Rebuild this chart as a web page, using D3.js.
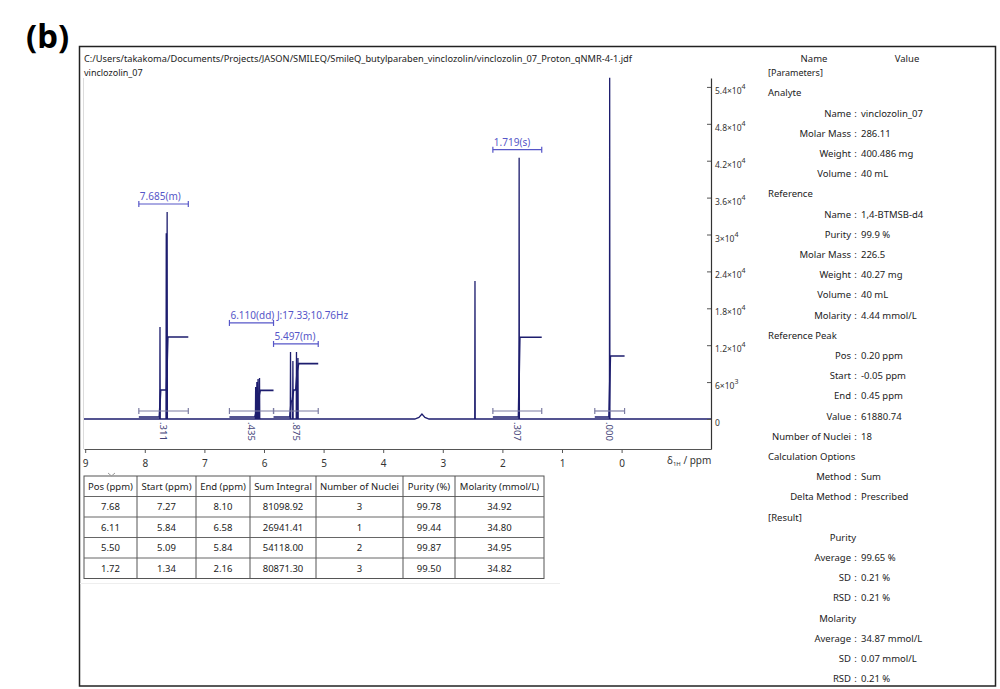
<!DOCTYPE html>
<html>
<head>
<meta charset="utf-8">
<script src="https://cdn.jsdelivr.net/npm/d3@7"></script>
<style>
body { margin: 0; background: #fff; }
svg { display: block; }
text { font-family: "Noto Sans", "Open Sans", sans-serif; }
</style>
</head>
<body>
<div id="chart"></div>
<script>
// ---- data ----
var filePath = 'C:/Users/takakoma/Documents/Projects/JASON/SMILEQ/SmileQ_butylparaben_vinclozolin/vinclozolin_07_Proton_qNMR-4-1.jdf'
var sampleName = 'vinclozolin_07'

// sharp lines of the 1H spectrum (ppm, intensity)
var peakPpm = [7.745, 7.64, 7.625, 6.14, 6.12, 6.10, 6.075, 5.555, 5.515, 5.455, 5.43, 2.46, 1.719, 0.20]
var peakHeight = [14960, 30200, 33660, 5200, 6000, 6500, 6670, 10900, 9430, 10900, 9900, 22440, 42490, 55500]
// broad water hump
var humpPpm = [3.47, 3.40, 3.35, 3.30, 3.23]
var humpHeight = [0, 250, 800, 250, 0]

// integration regions (Start = low ppm, End = high ppm)
var regionPos = ['7.68', '6.11', '5.50', '1.72', '0.20']
var regionStart = [7.27, 5.84, 5.09, 1.34, -0.05]
var regionEnd = [8.10, 6.58, 5.84, 2.16, 0.45]
var regionIntegral = [81098.92, 26941.41, 54118.00, 80871.30, 61880.74]
var regionLabel = ['7.685(m)', '6.110(dd) J:17.33;10.76Hz', '5.497(m)', '1.719(s)', '']
// where each integral curve rises and its running total after the rise
var stepPpm = [[7.745, 7.625], [6.14, 6.12, 6.10, 6.075], [5.555, 5.515, 5.455, 5.43], [1.719], [0.20]]
var stepValue = [[27400, 81098.92], [6000, 13000, 20000, 26941.41], [16200, 27400, 47000, 54118.00], [80871.30], [61880.74]]
var refRegion = 4

// result table
var tableHead = ['Pos (ppm)', 'Start (ppm)', 'End (ppm)', 'Sum Integral', 'Number of Nuclei', 'Purity (%)', 'Molarity (mmol/L)']
var nuclei = ['3', '1', '2', '3']
var purity = ['99.78', '99.44', '99.87', '99.50']
var molarity = ['34.92', '34.80', '34.95', '34.82']

// axes
var yTicks = d3.range(0, 54001, 6000)
var yMinor = d3.range(-4800, 55201, 1200)
var xTicks = d3.range(0, 10, 1)
var xMinor = d3.range(-1.4, 9.01, 0.2)

// parameter panel (null = section, '' = sub heading)
var panelLabel = ['Analyte', 'Name', 'Molar Mass', 'Weight', 'Volume', 'Reference', 'Name', 'Purity', 'Molar Mass', 'Weight', 'Volume', 'Molarity', 'Reference Peak', 'Pos', 'Start', 'End', 'Value', 'Number of Nuclei', 'Calculation Options', 'Method', 'Delta Method', '[Result]', 'Purity', 'Average', 'SD', 'RSD', 'Molarity', 'Average', 'SD', 'RSD']
var panelValue = [null, 'vinclozolin_07', '286.11', '400.486 mg', '40 mL', null, '1,4-BTMSB-d4', '99.9 %', '226.5', '40.27 mg', '40 mL', '4.44 mmol/L', null, '0.20 ppm', '-0.05 ppm', '0.45 ppm', '61880.74', '18', null, 'Sum', 'Prescribed', null, '', '99.65 %', '0.21 %', '0.21 %', '', '34.87 mmol/L', '0.07 mmol/L', '0.21 %']

// ---- layout ----
var width = 1000
var height = 689
var plotL = 84, plotR = 711, plotT = 78, plotB = 449
var navy = '#1d1d6e'
var labelBlue = '#5656c8'
var bracketGray = '#7c7ca2'

var svg = d3.select('#chart').append('svg')
    .attr('width', width)
    .attr('height', height)

svg.append('text')
    .attr('x', 26)
    .attr('y', 48)
    .attr('font-family', 'Liberation Sans, Arial, sans-serif')
    .attr('font-weight', 'bold')
    .attr('font-size', 33)
    .text('(b)')

svg.append('rect')
    .attr('x', 79.5).attr('y', 46.5)
    .attr('width', 916).attr('height', 639.5)
    .attr('fill', 'none')
    .attr('stroke', '#222')
    .attr('stroke-width', 1.5)

svg.append('text')
    .attr('x', 84).attr('y', 62)
    .attr('font-size', 9)
    .attr('fill', '#222')
    .attr('textLength', 548)
    .attr('lengthAdjust', 'spacingAndGlyphs')
    .text(filePath)
svg.append('text')
    .attr('x', 84).attr('y', 75.5)
    .attr('font-size', 9)
    .attr('fill', '#222')
    .text(sampleName)

// scales
var X = d3.scaleLinear().domain([9.02, -1.5]).range([plotL, plotR])
var Y = d3.scaleLinear().domain([-4880, 55450]).range([plotB, plotT])
var IY = d3.scaleLinear().domain([0, 81098.92]).range([Y(0) - 2, Y(0) - 82])

var defs = svg.append('defs')
defs.append('clipPath').attr('id', 'plotClip')
    .append('rect')
    .attr('x', plotL).attr('y', plotT - 2)
    .attr('width', plotR - plotL).attr('height', plotB - plotT + 2)

// faint left edge of the spectrum pane
svg.append('line')
    .attr('x1', plotL - 0.5).attr('x2', plotL - 0.5)
    .attr('y1', plotT).attr('y2', plotB)
    .attr('stroke', '#dcdcdc')

var plot = svg.append('g').attr('clip-path', 'url(#plotClip)')

// spectrum trace
var pts = []
var hw = 0.004
peakPpm.forEach(function (p, i) {
    pts.push([p + hw, 0], [p, peakHeight[i]], [p - hw, 0])
})
humpPpm.forEach(function (p, i) { pts.push([p, humpHeight[i]]) })
pts.push([9.1, 0], [-1.6, 0])
pts.sort(function (a, b) { return b[0] - a[0] })

var line = d3.line()
    .x(function (d) { return X(d[0]) })
    .y(function (d) { return Y(d[1]) })

plot.append('path')
    .attr('d', line(pts))
    .attr('fill', 'none')
    .attr('stroke', navy)
    .attr('stroke-width', 1.3)

// integral curves
var iline = d3.line()
    .x(function (d) { return X(d[0]) })
    .y(function (d) { return IY(d[1]) })

regionStart.forEach(function (s, i) {
    var c = [[regionEnd[i], 0]]
    var prev = 0
    stepPpm[i].forEach(function (p, k) {
        c.push([p + 0.012, prev], [p - 0.012, stepValue[i][k]])
        prev = stepValue[i][k]
    })
    c.push([s, regionIntegral[i]])
    plot.append('path')
        .attr('d', iline(c))
        .attr('fill', 'none')
        .attr('stroke', navy)
        .attr('stroke-width', 1.6)
})

// integration range brackets above baseline
function bracket(g, x1, x2, y, color) {
    g.append('line').attr('x1', x1).attr('x2', x2).attr('y1', y).attr('y2', y)
        .attr('stroke', color).attr('stroke-width', 1.2)
    g.append('line').attr('x1', x1).attr('x2', x1).attr('y1', y - 3).attr('y2', y + 3)
        .attr('stroke', color).attr('stroke-width', 1.2)
    g.append('line').attr('x1', x2).attr('x2', x2).attr('y1', y - 3).attr('y2', y + 3)
        .attr('stroke', color).attr('stroke-width', 1.2)
}
var brG = svg.append('g')
regionStart.forEach(function (s, i) {
    bracket(brG, X(regionEnd[i]), X(s), Y(0) - 8, bracketGray)
})

// relative integral values under the baseline (leading digit hidden as in the reference)
regionStart.forEach(function (s, i) {
    var v = (regionIntegral[i] / regionIntegral[refRegion]).toFixed(3)
    var cx = (X(regionEnd[i]) + X(s)) / 2
    svg.append('text')
        .attr('transform', 'translate(' + cx + ',' + (Y(0) + 3) + ') rotate(90)')
        .attr('dy', '0.35em')
        .attr('font-size', 9.5)
        .attr('fill', '#45457a')
        .text(v.slice(v.indexOf('.')))
})

// multiplet labels
var labels = []
regionLabel.forEach(function (t, i) {
    if (!t) return
    var top = 0
    peakPpm.forEach(function (p, k) {
        if (p <= regionEnd[i] && p >= regionStart[i]) top = Math.max(top, peakHeight[k])
    })
    labels.push({ text: t, x1: X(regionEnd[i]), x2: X(regionStart[i]), y: Y(top) - 8 })
})
var labG = svg.append('g')
var tmp = labG.append('text').attr('font-size', 10)
labels.forEach(function (d) { d.w = tmp.text(d.text).node().getComputedTextLength() })
tmp.remove()
for (var i = labels.length - 2; i >= 0; i--) {
    var a = labels[i], b = labels[i + 1]
    if (a.x1 + a.w > b.x1 - 2) a.y = Math.min(a.y, b.y - 21)
}
labels.forEach(function (d) {
    bracket(labG, d.x1, d.x2, d.y, labelBlue)
    labG.append('text')
        .attr('x', d.x1 + 1)
        .attr('y', d.y - 4)
        .attr('font-size', 10)
        .attr('fill', labelBlue)
        .text(d.text)
})

// y axis on the right
var yAxisG = svg.append('g').attr('transform', 'translate(' + plotR + ',0)')
yAxisG.call(d3.axisRight(Y).tickValues(yMinor).tickSize(-2).tickSizeOuter(0).tickFormat(''))
yAxisG.call(d3.axisRight(Y).tickValues(yTicks).tickSize(-4).tickSizeOuter(0).tickFormat(''))
yAxisG.selectAll('path').attr('stroke', '#333').attr('stroke-width', 1.2)
yAxisG.selectAll('line').attr('stroke', '#555')
yTicks.forEach(function (v) {
    var t = svg.append('text')
        .attr('x', plotR + 4)
        .attr('y', Y(v) + 7)
        .attr('font-size', 8.5)
        .attr('fill', '#333')
    if (v === 0) { t.text('0'); return }
    var e = Math.floor(Math.log10(v))
    var m = +(v / Math.pow(10, e)).toFixed(2)
    t.append('tspan').text(m + '\u00d710')
    t.append('tspan').attr('dy', -5).attr('font-size', 7).text(e)
})

// x axis
var xAxisG = svg.append('g').attr('transform', 'translate(0,' + plotB + ')')
xAxisG.call(d3.axisBottom(X).tickValues(xMinor).tickSize(2).tickSizeOuter(0).tickFormat(''))
xAxisG.call(d3.axisBottom(X).tickValues(xTicks).tickSize(4).tickSizeOuter(0).tickPadding(7).tickFormat(d3.format('d')))
xAxisG.selectAll('path').attr('stroke', '#555')
xAxisG.selectAll('line').attr('stroke', '#555')
xAxisG.selectAll('text').attr('font-size', 10).attr('fill', '#333')
    .attr('font-family', '"Noto Sans", sans-serif')

var xl = svg.append('text')
    .attr('x', 667).attr('y', 464)
    .attr('font-size', 10)
    .attr('fill', '#333')
xl.append('tspan').text('\u03b4')
xl.append('tspan').attr('dy', 2).attr('font-size', 6).text('1H')
xl.append('tspan').attr('dy', -2).text(' / ppm')

// result table
var colW = [53, 59, 54, 66, 87, 52, 89]
var colX = [84]
colW.forEach(function (w, k) { colX.push(colX[k] + w) })
var rowY = [476, 496.5, 517, 537.5, 558, 578.5]
var cells = [tableHead]
for (var r = 0; r < 4; r++) {
    cells.push([regionPos[r], regionStart[r].toFixed(2), regionEnd[r].toFixed(2), regionIntegral[r].toFixed(2), nuclei[r], purity[r], molarity[r]])
}
var tab = svg.append('g')
tab.append('rect')
    .attr('x', colX[0]).attr('y', rowY[0])
    .attr('width', colX[7] - colX[0]).attr('height', rowY[5] - rowY[0])
    .attr('fill', '#fff').attr('stroke', '#555')
rowY.slice(1, 5).forEach(function (y) {
    tab.append('line').attr('x1', colX[0]).attr('x2', colX[7]).attr('y1', y).attr('y2', y)
        .attr('stroke', '#666')
})
colX.slice(1, 7).forEach(function (x) {
    tab.append('line').attr('x1', x).attr('x2', x).attr('y1', rowY[0]).attr('y2', rowY[5])
        .attr('stroke', '#555')
})
cells.forEach(function (row, r) {
    row.forEach(function (c, k) {
        tab.append('text')
            .attr('x', (colX[k] + colX[k + 1]) / 2)
            .attr('y', (rowY[r] + rowY[r + 1]) / 2)
            .attr('dy', '0.35em')
            .attr('text-anchor', 'middle')
            .attr('font-size', 9.5)
            .attr('fill', '#222')
            .text(c)
    })
})
// sort marker above first header
tab.append('path')
    .attr('d', 'M108,473 L111.5,476 L115,473')
    .attr('fill', 'none').attr('stroke', '#999')
svg.append('line')
    .attr('x1', 80).attr('x2', 560).attr('y1', 583.5).attr('y2', 583.5)
    .attr('stroke', '#eee')

// parameter panel
var pane = svg.append('g')
pane.append('text').attr('x', 814).attr('y', 58.5).attr('dy', '0.35em')
    .attr('text-anchor', 'middle').attr('font-size', 9.5).attr('fill', '#222').text('Name')
pane.append('text').attr('x', 907).attr('y', 58.5).attr('dy', '0.35em')
    .attr('text-anchor', 'middle').attr('font-size', 9.5).attr('fill', '#222').text('Value')
pane.append('text').attr('x', 768).attr('y', 76).attr('font-size', 9).attr('fill', '#222').text('[Parameters]')

panelLabel.forEach(function (lab, i) {
    var y = 93 + i * 20.2
    var v = panelValue[i]
    var t = pane.append('text').attr('y', y).attr('dy', '0.35em')
        .attr('font-size', 9.5).attr('fill', '#222')
    if (v === null) {
        t.attr('x', 768).text(lab)
    } else if (v === '') {
        t.attr('x', 856).attr('text-anchor', 'end').text(lab)
    } else {
        t.attr('x', 851).attr('text-anchor', 'end').text(lab)
        pane.append('text').attr('x', 855.5).attr('y', y).attr('dy', '0.35em')
            .attr('text-anchor', 'middle').attr('font-size', 9.5).attr('fill', '#222').text(':')
        pane.append('text').attr('x', 861).attr('y', y).attr('dy', '0.35em')
            .attr('font-size', 9.5).attr('fill', '#222').text(v)
    }
})
</script>
</body>
</html>
